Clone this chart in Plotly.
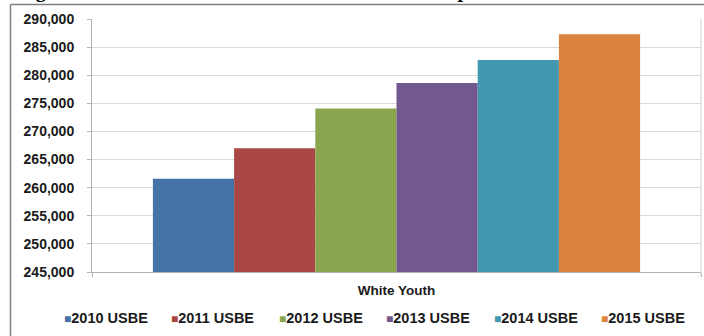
import plotly.graph_objects as go

categories = ["White Youth"]
series_names = ["2010 USBE", "2011 USBE", "2012 USBE", "2013 USBE", "2014 USBE", "2015 USBE"]
series_values = [261600, 267000, 274100, 278600, 282700, 287300]
series_colors = ["#4572A7", "#AA4643", "#89A54E", "#71588F", "#4198AF", "#DB843D"]
y_ticks = [245000, 250000, 255000, 260000, 265000, 270000, 275000, 280000, 285000, 290000]
title_text = "Figure 2: Growth in the Number of White Youth Population"

W, H = 704, 336
L, R, T, B = 92, 3, 19, 64
PW, PH = W - L - R, H - T - B

def px(x):
    return (x - L) / PW

def py(y):
    return (H - B - y) / PH

fig = go.Figure()
for name, val, col in zip(series_names, series_values, series_colors):
    fig.add_trace(go.Bar(x=categories, y=[val], name=name, marker=dict(color=col, line=dict(width=0)),
                         showlegend=False))

font_family = "Liberation Sans, Arial, sans-serif"

annotations = []
# Legend (manual, compact like the original)
leg_x = [62, 169, 277, 384, 492, 599]
for name, col, lx in zip(series_names, series_colors, leg_x):
    annotations.append(dict(
        xref="paper", yref="paper", x=px(lx), y=py(318), xanchor="left", yanchor="middle",
        text=f"<span style='color:{col};font-size:12px'>■</span><b>{name}</b>",
        showarrow=False, font=dict(family=font_family, size=14.5, color="#1a1a1a")))

# Cropped title at the very top
annotations.append(dict(
    xref="paper", yref="paper", x=px(16), y=py(4), xanchor="left", yanchor="bottom",
    text=f"<b>{title_text}</b>", showarrow=False,
    font=dict(family="Liberation Serif, Times New Roman, serif", size=20, color="#000000")))

shapes = [
    # outer frame
    dict(type="line", xref="paper", yref="paper", x0=px(10.5), x1=px(710), y0=py(4.5), y1=py(4.5),
         line=dict(color="#7f7f7f", width=1.5)),
    dict(type="line", xref="paper", yref="paper", x0=px(10.5), x1=px(10.5), y0=py(4.5), y1=py(340),
         line=dict(color="#7f7f7f", width=1.5)),
    # right border of plot area
    dict(type="line", xref="paper", yref="paper", x0=1, x1=1, y0=py(276), y1=1,
         line=dict(color="#cfcfcf", width=1)),
]

fig.update_layout(
    width=W, height=H,
    margin=dict(l=L, r=R, t=T, b=B, pad=0),
    paper_bgcolor="white", plot_bgcolor="white",
    barmode="group", bargap=0.2, bargroupgap=0,
    annotations=annotations, shapes=shapes,
    font=dict(family=font_family),
    xaxis=dict(
        type="category", showline=True, linecolor="#b3b3b3", linewidth=1,
        ticks="outside", tickson="boundaries", ticklen=4, tickcolor="#b3b3b3",
        tickfont=dict(family=font_family, size=13.5, color="#1a1a1a", weight="bold"),
        showgrid=False, ticklabelstandoff=6,
    ),
    yaxis=dict(
        range=[245000, 290000], tickvals=y_ticks, tickformat=",",
        showline=True, linecolor="#b3b3b3", linewidth=1,
        ticks="outside", ticklen=4, tickcolor="#b3b3b3",
        showgrid=True, gridcolor="#d9d9d9", gridwidth=1,
        tickfont=dict(family=font_family, size=14, color="#1a1a1a", weight="bold"),
        ticklabelstandoff=10, zeroline=False,
    ),
)

fig.write_html("out.html",
               config={"displayModeBar": False},
               post_script="document.body.style.margin='0';document.body.style.padding='0';"
                           "document.body.style.overflow='hidden';")
